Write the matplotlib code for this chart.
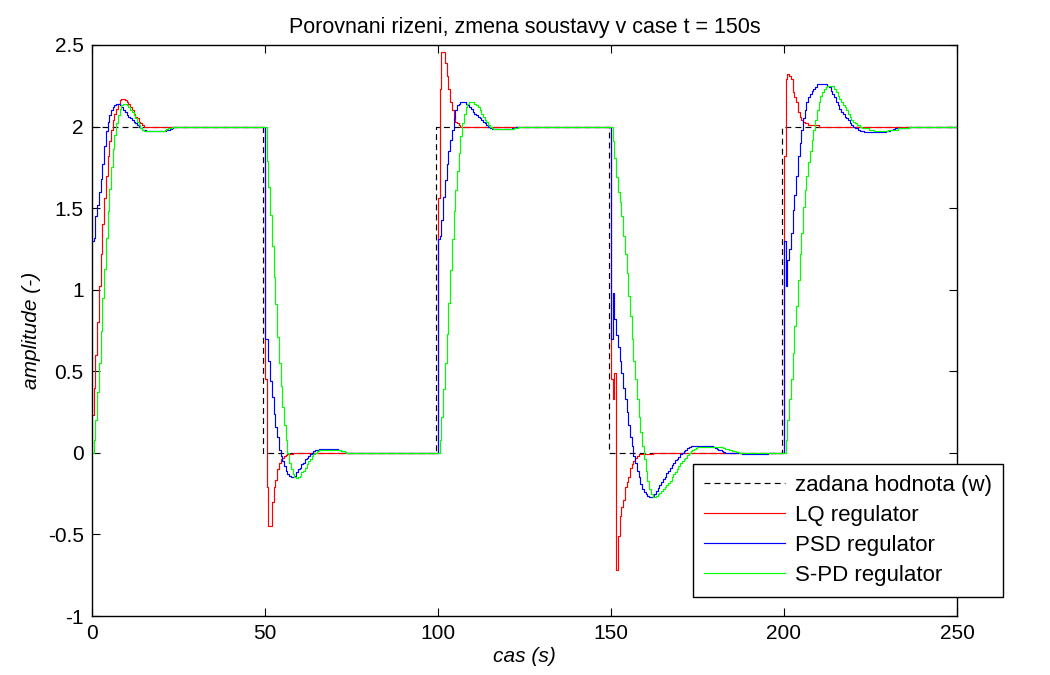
import matplotlib
matplotlib.use("Agg")
import matplotlib.pyplot as plt

# Sample period of the discrete controllers (s)
Ts = 0.5
t_end = 250

# Setpoint w: switching instants and levels
w_times = [0, 49.5, 99.5, 149.5, 199.5]
w_levels = [2, 0, 2, 0, 2]

# Segment start times of the controlled outputs and the level each settles to
seg_times = [0, 50, 100, 150, 200]
seg_levels = [2, 0, 2, 0, 2]

# Transient samples (every Ts) after each setpoint change; afterwards the
# output stays at the segment level.
lq_1 = [0.23, 0.40, 0.60, 0.80, 1.02, 1.22, 1.40, 1.56, 1.70, 1.82, 1.91, 1.98,
        2.04, 2.08, 2.11, 2.14, 2.16, 2.17, 2.17, 2.16, 2.15, 2.14, 2.12, 2.10,
        2.08, 2.06, 2.05, 2.03, 2.02, 2.01]
lq_2 = [0.45, -0.21, -0.45, -0.45, -0.30, -0.21, -0.165, -0.10, -0.06, -0.04,
        -0.03, -0.02, -0.015, -0.01, -0.01, -0.005]
lq_3 = [1.56, 2.23, 2.46, 2.46, 2.39, 2.31, 2.23, 2.15, 2.10, 2.06, 2.03, 2.02,
        2.01]
lq_4 = [0.45, 0.33, 0.49, -0.72, -0.51, -0.39, -0.33, -0.29, -0.21, -0.18,
        -0.15, -0.09, -0.07, -0.05, -0.03, -0.02, -0.01, -0.01, -0.01, -0.01,
        -0.01, -0.01, -0.01, -0.005]
lq_5 = [1.82, 2.29, 2.32, 2.31, 2.29, 2.21, 2.18, 2.15, 2.09, 2.06, 2.04, 2.03,
        2.02, 2.02, 2.01, 2.01, 2.01, 2.01, 2.01, 2.01]

psd_1 = [1.30, 1.32, 1.45, 1.52, 1.60, 1.68, 1.77, 1.88, 1.97, 2.03, 2.07, 2.10,
         2.12, 2.13, 2.14, 2.14, 2.13, 2.12, 2.10, 2.09, 2.07, 2.06, 2.05, 2.04,
         2.03, 2.02, 2.01, 2.00, 1.99, 1.98, 1.98, 1.97, 1.97, 1.97, 1.97, 1.97,
         1.97, 1.97, 1.97, 1.97, 1.97, 1.97, 1.975, 1.98, 1.98, 1.985, 1.99, 1.995]
psd_2 = [0.70, 0.70, 0.56, 0.44, 0.34, 0.24, 0.16, 0.10, 0.02, -0.02, -0.05,
         -0.08, -0.11, -0.13, -0.14, -0.145, -0.145, -0.14, -0.12, -0.10, -0.09,
         -0.07, -0.06, -0.04, -0.03, -0.02, -0.01, 0.0, 0.01, 0.015, 0.02, 0.025,
         0.025, 0.025, 0.025, 0.025, 0.025, 0.025, 0.025, 0.025, 0.025, 0.025,
         0.02, 0.015, 0.01, 0.01, 0.005]
psd_3 = [1.31, 1.33, 1.43, 1.57, 1.67, 1.77, 1.85, 1.92, 1.98, 2.05, 2.10, 2.13,
         2.14, 2.15, 2.15, 2.15, 2.14, 2.13, 2.12, 2.11, 2.09, 2.08, 2.07, 2.06,
         2.05, 2.04, 2.03, 2.02, 2.01, 2.00, 1.99, 1.985, 1.985, 1.985, 1.985,
         1.985, 1.985, 1.985, 1.985, 1.985, 1.985, 1.985, 1.985, 1.99, 1.99,
         1.995, 1.995]
psd_4 = [0.70, 0.98, 0.82, 0.72, 0.65, 0.56, 0.49, 0.40, 0.33, 0.25, 0.17, 0.10,
         0.04, -0.02, -0.06, -0.11, -0.15, -0.19, -0.22, -0.24, -0.255, -0.265,
         -0.27, -0.27, -0.265, -0.25, -0.235, -0.215, -0.195, -0.18, -0.16,
         -0.145, -0.125, -0.11, -0.09, -0.075, -0.06, -0.045, -0.035, -0.025,
         -0.01, 0.0, 0.01, 0.02, 0.03, 0.035, 0.04, 0.045, 0.045, 0.045, 0.045,
         0.045, 0.045, 0.045, 0.045, 0.045, 0.045, 0.045, 0.04, 0.035, 0.03,
         0.025, 0.02, 0.015, 0.01, 0.005, 0.0, 0.0, 0.0, 0.0, 0.0, 0.0, 0.0, 0.0,
         0.0, 0.0, -0.006, -0.006, -0.006, -0.006, -0.006, -0.006, -0.006,
         -0.006, -0.006, -0.006, -0.006, -0.006, -0.006, -0.006, -0.006]
psd_5 = [1.30, 1.02, 1.18, 1.25, 1.35, 1.49, 1.58, 1.70, 1.82, 1.90, 1.98, 2.05,
         2.10, 2.15, 2.18, 2.20, 2.22, 2.23, 2.24, 2.26, 2.26, 2.26, 2.26, 2.26,
         2.26, 2.25, 2.24, 2.22, 2.20, 2.18, 2.15, 2.13, 2.11, 2.09, 2.08, 2.06,
         2.05, 2.04, 2.02, 2.01, 2.00, 1.99, 1.99, 1.98, 1.975, 1.97, 1.965,
         1.965, 1.965, 1.965, 1.965, 1.965, 1.965, 1.965, 1.965, 1.965, 1.965,
         1.965, 1.965, 1.97, 1.975, 1.98, 1.98, 1.985, 1.99, 1.99, 1.99, 1.99,
         1.99, 1.99, 1.99, 1.99]

spd_1 = [0.0, 0.08, 0.20, 0.37, 0.55, 0.75, 0.95, 1.13, 1.32, 1.48, 1.62, 1.75,
         1.86, 1.95, 2.02, 2.07, 2.11, 2.13, 2.14, 2.14, 2.13, 2.12, 2.10, 2.09,
         2.07, 2.05, 2.03, 2.01, 1.99, 1.98, 1.975, 1.97, 1.97, 1.97, 1.97, 1.97,
         1.97, 1.97, 1.97, 1.97, 1.97, 1.975, 1.98, 1.985, 1.99, 1.99, 1.995]
spd_2 = [2.0, 1.79, 1.63, 1.46, 1.27, 1.08, 0.91, 0.71, 0.55, 0.41, 0.28, 0.17,
         0.08, 0.0, -0.06, -0.10, -0.13, -0.15, -0.155, -0.15, -0.14, -0.12,
         -0.11, -0.09, -0.07, -0.05, -0.04, -0.02, -0.01, 0.0, 0.01, 0.015, 0.02,
         0.02, 0.02, 0.02, 0.02, 0.02, 0.02, 0.02, 0.02, 0.02, 0.02, 0.015, 0.01,
         0.01, 0.005]
spd_3 = [0.0, 0.08, 0.22, 0.39, 0.55, 0.73, 0.92, 1.12, 1.31, 1.48, 1.61, 1.73,
         1.84, 1.94, 2.02, 2.08, 2.12, 2.14, 2.15, 2.15, 2.15, 2.14, 2.13, 2.12,
         2.10, 2.08, 2.06, 2.04, 2.03, 2.01, 2.00, 1.99, 1.985, 1.985, 1.985,
         1.985, 1.985, 1.985, 1.985, 1.985, 1.985, 1.985, 1.985, 1.985, 1.99,
         1.99, 1.995]
spd_4 = [2.0, 1.91, 1.81, 1.69, 1.60, 1.54, 1.45, 1.33, 1.22, 1.10, 0.96, 0.84,
         0.70, 0.56, 0.45, 0.33, 0.22, 0.13, 0.04, -0.04, -0.11, -0.17, -0.22,
         -0.25, -0.27, -0.27, -0.265, -0.255, -0.245, -0.235, -0.22, -0.21,
         -0.195, -0.185, -0.17, -0.15, -0.13, -0.115, -0.10, -0.08, -0.065,
         -0.05, -0.04, -0.03, -0.015, 0.0, 0.01, 0.02, 0.025, 0.03, 0.035, 0.035,
         0.035, 0.035, 0.035, 0.035, 0.035, 0.035, 0.035, 0.035, 0.035, 0.035,
         0.035, 0.035, 0.035, 0.03, 0.025, 0.025, 0.02, 0.015, 0.01, 0.01, 0.005,
         0.005]
spd_5 = [0.0, 0.08, 0.20, 0.33, 0.45, 0.61, 0.78, 0.90, 1.06, 1.22, 1.35, 1.51,
         1.61, 1.70, 1.78, 1.85, 1.92, 1.98, 2.04, 2.10, 2.15, 2.19, 2.21, 2.23,
         2.24, 2.25, 2.25, 2.25, 2.25, 2.23, 2.21, 2.19, 2.17, 2.15, 2.13, 2.12,
         2.10, 2.08, 2.06, 2.04, 2.03, 2.02, 2.01, 2.01, 2.00, 1.99, 1.99, 1.99,
         1.99, 1.98, 1.98, 1.98, 1.97, 1.97, 1.97, 1.97, 1.97, 1.97, 1.97, 1.97,
         1.98, 1.98, 1.98, 1.98, 1.98, 1.98, 1.99, 1.99, 1.99, 1.99, 1.99, 1.99]

lq_segments = [lq_1, lq_2, lq_3, lq_4, lq_5]
psd_segments = [psd_1, psd_2, psd_3, psd_4, psd_5]
spd_segments = [spd_1, spd_2, spd_3, spd_4, spd_5]

labels = ["zadana hodnota (w)", "LQ regulator", "PSD regulator",
          "S-PD regulator"]
x_ticks = [0, 50, 100, 150, 200, 250]
y_ticks = [-1, -0.5, 0, 0.5, 1, 1.5, 2, 2.5]
y_ticklabels = ["-1", "-0.5", "0", "0.5", "1", "1.5", "2", "2.5"]


def sampled_series(segments):
    """Join the transient samples of all segments into one sampled signal."""
    t, y = [], []
    for k, seg in enumerate(segments):
        t0 = seg_times[k]
        t1 = seg_times[k + 1] if k + 1 < len(seg_times) else t_end
        n = int(round((t1 - t0) / Ts))
        vals = list(seg) + [seg_levels[k]] * (n - len(seg))
        t += [t0 + i * Ts for i in range(n)]
        y += vals
    t.append(t_end)
    y.append(y[-1])
    return t, y


plt.rcParams["font.family"] = ["Liberation Sans", "DejaVu Sans"]

fig = plt.figure(figsize=(10.5, 6.75), dpi=100)
ax_left, ax_bottom, ax_w, ax_h = 92, 616, 865, 571   # pixels
ax = fig.add_axes([ax_left / 1050, 1 - ax_bottom / 675, ax_w / 1050, ax_h / 675])

ax.step(w_times + [t_end], w_levels + [w_levels[-1]], where="post",
        color="black", lw=0.85, dashes=(5, 3.5), label=labels[0])
for segs, col, lab in [(lq_segments, "#ff0000", labels[1]),
                       (psd_segments, "#0000ff", labels[2]),
                       (spd_segments, "#00ff00", labels[3])]:
    t, y = sampled_series(segs)
    ax.step(t, y, where="post", color=col, lw=0.85, label=lab)

ax.set_xlim(0, 250)
ax.set_ylim(-1, 2.5)
ax.set_xticks(x_ticks)
ax.set_yticks(y_ticks)
ax.set_yticklabels(y_ticklabels)
ax.tick_params(direction="in", length=6, width=0.8, top=True, right=True,
               labelsize=15, pad=6)
for s in ax.spines.values():
    s.set_linewidth(1.0)

ax.set_title("Porovnani rizeni, zmena soustavy v case t = 150s", fontsize=15.5,
             pad=9)
ax.set_xlabel("cas (s)", fontsize=15, style="italic", labelpad=3)
ax.set_ylabel("amplitude (-)", fontsize=15, style="italic", labelpad=5)

# Legend box: left edge at x=693 px, bottom at y=597 px; it reaches past the
# right-hand axis line.
leg = ax.legend(loc="lower left",
                bbox_to_anchor=((693 - ax_left) / ax_w, (ax_bottom - 597) / ax_h),
                borderaxespad=0, fontsize=16, handlelength=3.65,
                handletextpad=0.45, labelspacing=0.4, borderpad=0.5,
                fancybox=False, framealpha=1, edgecolor="black")
leg.get_frame().set_linewidth(1.0)

fig.savefig("out.png", dpi=100)
